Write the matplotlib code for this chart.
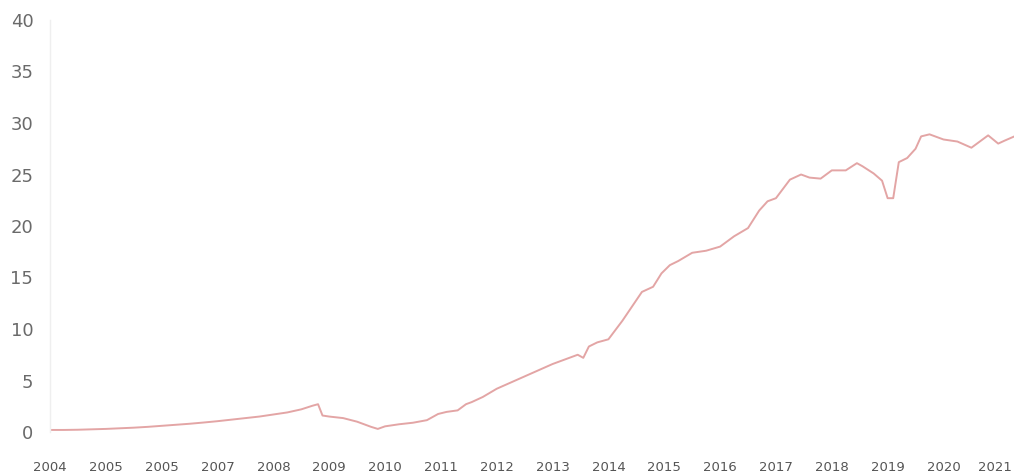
import matplotlib
matplotlib.use("Agg")
import matplotlib.pyplot as plt
from matplotlib.transforms import ScaledTranslation

# x positions in decimal years
years = [2004.00, 2004.25, 2004.50, 2004.75, 2005.00, 2005.25, 2005.50, 2005.75,
         2006.00, 2006.25, 2006.50, 2006.75, 2007.00, 2007.25, 2007.50, 2007.75,
         2008.00, 2008.25, 2008.50, 2008.70, 2008.80, 2008.88, 2009.00, 2009.25,
         2009.50, 2009.75, 2009.87, 2010.00, 2010.25, 2010.50, 2010.75, 2010.95,
         2011.10, 2011.30, 2011.45, 2011.55, 2011.75, 2012.00, 2012.25, 2012.50,
         2012.75, 2013.00, 2013.25, 2013.45, 2013.55, 2013.65, 2013.80, 2014.00,
         2014.25, 2014.50, 2014.60, 2014.80, 2014.95, 2015.10, 2015.25, 2015.50,
         2015.75, 2016.00, 2016.25, 2016.50, 2016.70, 2016.85, 2017.00, 2017.25,
         2017.45, 2017.60, 2017.80, 2018.00, 2018.25, 2018.45, 2018.55, 2018.75,
         2018.90, 2019.00, 2019.10, 2019.20, 2019.35, 2019.50, 2019.60, 2019.75,
         2020.00, 2020.25, 2020.50, 2020.65, 2020.80, 2020.98, 2021.10, 2021.27]
values = [0.20, 0.20, 0.22, 0.26, 0.30, 0.36, 0.42, 0.50,
          0.60, 0.70, 0.80, 0.92, 1.05, 1.20, 1.35, 1.50,
          1.70, 1.90, 2.20, 2.55, 2.70, 1.60, 1.50, 1.35,
          1.00, 0.50, 0.30, 0.55, 0.75, 0.90, 1.15, 1.75,
          1.95, 2.10, 2.70, 2.90, 3.40, 4.20, 4.80, 5.40,
          6.00, 6.60, 7.10, 7.50, 7.20, 8.30, 8.70, 9.00,
          10.80, 12.80, 13.60, 14.10, 15.40, 16.20, 16.60, 17.40,
          17.60, 18.00, 19.00, 19.80, 21.50, 22.40, 22.70, 24.50,
          25.00, 24.70, 24.60, 25.40, 25.40, 26.10, 25.80, 25.10,
          24.40, 22.70, 22.70, 26.20, 26.60, 27.50, 28.70, 28.90,
          28.40, 28.20, 27.60, 28.20, 28.80, 28.00, 28.30, 28.70]

tick_positions = list(range(2004, 2022))
tick_labels = ["2004", "2005", "2005", "2007", "2008", "2009", "2010", "2011", "2012",
               "2013", "2014", "2015", "2016", "2017", "2018", "2019", "2020", "2021"]
y_ticks = [0, 5, 10, 15, 20, 25, 30, 35, 40]

fig = plt.figure(figsize=(10.14, 4.75), dpi=100)
ax = fig.add_axes([50/1014, 43/475, 964/1014, 412/475])

ax.plot(years, values, color="#e3a5a5", linewidth=1.4, solid_capstyle="round",
        solid_joinstyle="round")

ax.set_xlim(2004 + (50 - 49) / 55.9, 2004 + (1014 - 49) / 55.9)
ax.set_ylim(0, 40)
ax.set_xticks(tick_positions)
ax.set_xticklabels(tick_labels)
ax.set_yticks(y_ticks)

for s in ["top", "right", "bottom"]:
    ax.spines[s].set_visible(False)
ax.spines["left"].set_color("#efefef")
ax.spines["left"].set_linewidth(1.0)

ax.tick_params(axis="x", length=0, pad=21, labelsize=9.5, labelcolor="#555555")
ax.tick_params(axis="y", length=0, pad=12, labelsize=13, labelcolor="#6a6a6a")

# keep the last year label inside the figure edge
last = ax.get_xticklabels()[-1]
last.set_transform(last.get_transform() + ScaledTranslation(-4/100, 0, fig.dpi_scale_trans))

fig.savefig("out.png", dpi=100, facecolor="white")
